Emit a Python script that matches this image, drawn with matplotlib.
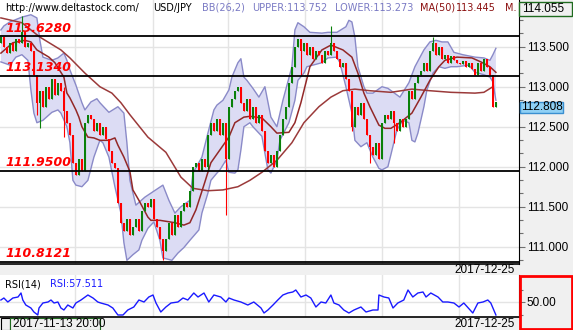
import numpy as np
import matplotlib
matplotlib.use("Agg")
import matplotlib.pyplot as plt
from matplotlib.patches import Rectangle
from matplotlib.ticker import AutoMinorLocator, FixedLocator, MultipleLocator

# ---------------- data ----------------
first_open = 113.55
closes = [
    113.62, 113.50, 113.42, 113.55, 113.45, 113.60, 113.55,
    113.68, 113.50, 113.55, 113.45,
    113.15, 112.80,
    112.95, 112.75, 113.00, 112.85, 113.10, 112.90, 113.05, 112.95,
    112.70, 112.55, 112.40,
    112.05, 111.90, 112.10, 111.95,
    112.55, 112.65,
    112.60, 112.45, 112.55, 112.40, 112.50, 112.35,
    112.20, 112.05, 111.98,
    111.55,
    111.30, 111.20, 111.35, 111.15,
    111.25, 111.35, 111.20,
    111.45, 111.55, 111.50, 111.60,
    111.35, 111.25, 111.10,
    110.95, 111.10,
    111.30, 111.15, 111.40, 111.25,
    111.45, 111.55, 111.50, 111.70,
    112.00,
    112.05, 111.95, 112.10, 112.00,
    112.40, 112.55,
    112.45, 112.60, 112.40, 112.55,
    112.10,
    112.75,
    112.85, 112.95, 113.00, 112.80,
    112.70, 112.85, 112.60, 112.75, 112.55, 112.65,
    112.45, 112.20, 112.05, 112.15, 112.00, 112.20,
    112.40, 112.60, 112.75,
    113.05, 113.25,
    113.50, 113.60, 113.45, 113.55, 113.40, 113.50,
    113.35, 113.45, 113.40, 113.30, 113.45, 113.40,
    113.55, 113.45,
    113.35, 113.25, 113.30,
    113.10,
    112.95,
    112.50,
    112.75, 112.65, 112.80, 112.60,
    112.40, 112.25, 112.15, 112.30, 112.10,
    112.55, 112.65, 112.60, 112.70,
    112.55, 112.45, 112.60, 112.50, 112.60,
    112.95, 112.85,
    113.05, 113.15, 113.20,
    113.30, 113.20,
    113.45, 113.55, 113.40, 113.50,
    113.35, 113.40, 113.30, 113.38, 113.33, 113.30,
    113.28, 113.32, 113.25, 113.30, 113.22,
    113.15, 113.30, 113.20, 113.35, 113.25, 113.15,
    112.75,
    112.81,
]
spike_high = {7: 113.88, 21: 113.00, 110: 113.76, 144: 113.62}
spike_low = {12: 112.65, 13: 112.48, 21: 112.37, 54: 110.84, 69: 111.95,
             75: 111.40, 100: 113.15, 117: 112.45, 123: 112.05, 131: 112.30}

upper_x = [0, 1, 3, 7, 10, 12, 13, 14, 17, 19, 21, 22, 23, 25, 27, 28, 30, 32, 33, 36,
           39, 41, 42, 43, 45, 48, 50, 54, 56, 58, 60, 63, 64, 67, 69, 71, 72, 74, 76, 77,
           79, 80, 81, 82, 84, 86, 88, 90, 92, 94, 97, 98, 99, 101, 103, 107, 109, 112, 115, 116,
           117, 118, 119, 121, 122, 124, 127, 129, 133, 136, 138, 141, 143, 145, 147, 149, 151, 154, 158, 161,
           163, 164, 165]
upper_y = [113.71, 113.76, 113.81, 113.87, 113.90, 113.86, 113.58, 113.37, 113.33, 113.36,
           113.42, 113.33, 113.21, 113.02, 112.80, 112.71, 112.81, 112.85, 112.80, 112.68,
           112.75, 112.67, 112.30, 111.83, 111.52, 111.62, 111.67, 111.77, 111.58, 111.42,
           111.50, 111.58, 111.92, 112.12, 112.42, 112.71, 112.77, 112.83, 112.96, 113.12,
           113.30, 113.35, 113.12, 113.08, 112.98, 112.87, 113.00, 112.62, 112.50, 112.83,
           113.25, 113.71, 113.80, 113.75, 113.68, 113.67, 113.68, 113.68, 113.75, 113.83,
           113.81, 113.62, 113.25, 113.00, 112.92, 112.92, 113.00, 112.98, 112.87, 113.05,
           113.25, 113.46, 113.56, 113.58, 113.56, 113.56, 113.43, 113.40, 113.37, 113.36,
           113.33, 113.40, 113.48]

lower_x = [0, 3, 5, 7, 9, 10, 11, 12, 14, 17, 19, 20, 22, 23, 24, 25, 27, 29, 31, 33,
           34, 36, 38, 40, 41, 42, 44, 46, 47, 49, 51, 53, 54, 57, 59, 61, 63, 66, 67, 69,
           70, 72, 73, 75, 76, 78, 79, 80, 81, 83, 84, 87, 89, 90, 92, 93, 96, 98, 99, 101,
           102, 104, 107, 109, 112, 113, 115, 117, 118, 120, 122, 124, 126, 127, 129, 130, 132, 134, 136, 137,
           138, 139, 141, 142, 144, 146, 148, 150, 152, 156, 158, 161, 163, 164, 165]
lower_y = [113.31, 113.27, 113.37, 113.40, 113.33, 112.96, 112.67, 112.55, 112.58, 112.68,
           112.71, 112.67, 112.50, 112.30, 111.83, 111.77, 111.75, 111.83, 112.12, 112.33,
           112.30, 112.12, 111.75, 111.42, 111.05, 110.83, 110.90, 110.96, 111.08, 111.23,
           111.31, 111.08, 110.86, 110.83, 110.92, 110.99, 111.08, 111.21, 111.42, 111.67,
           111.83, 111.92, 111.96, 112.08, 111.93, 111.92, 111.96, 112.21, 112.50, 112.55,
           112.50, 112.38, 111.96, 111.92, 112.08, 112.33, 112.55, 112.83, 113.08, 113.17,
           113.25, 113.27, 113.30, 113.36, 113.37, 113.30, 113.00, 112.67, 112.33, 112.25,
           112.30, 112.12, 111.98, 111.96, 112.00, 112.15, 112.46, 112.58, 112.55, 112.33,
           112.31, 112.42, 112.75, 112.96, 113.17, 113.25, 113.23, 113.25, 113.25, 113.27,
           113.18, 113.15, 113.12, 113.06, 112.83]

ma50_x = [0, 4, 8, 10, 12, 16, 18, 21, 22, 23, 25, 26, 27, 29, 31, 33, 36, 38, 39, 41,
          43, 44, 46, 49, 50, 53, 58, 61, 63, 65, 68, 70, 73, 76, 78, 81, 83, 87, 90, 92,
          96, 98, 100, 103, 107, 110, 114, 117, 119, 121, 123, 126, 128, 130, 133, 137, 140, 143, 146, 148,
          152, 157, 160, 163, 165]
ma50_y = [113.42, 113.55, 113.58, 113.56, 113.46, 113.37, 113.30, 113.12, 112.92, 112.86,
          112.71, 112.62, 112.50, 112.37, 112.36, 112.33, 112.33, 112.36, 112.27, 112.12,
          111.94, 111.71, 111.58, 111.37, 111.33, 111.33, 111.30, 111.27, 111.30, 111.46,
          111.81, 112.05, 112.21, 112.37, 112.55, 112.62, 112.63, 112.61, 112.50, 112.42,
          112.43, 112.55, 112.80, 113.25, 113.46, 113.52, 113.46, 113.37, 113.17, 112.92,
          112.75, 112.52, 112.48, 112.48, 112.55, 112.67, 112.87, 113.08, 113.25, 113.33,
          113.37, 113.36, 113.31, 113.25, 113.18]

ma_long_x = [0, 7, 13, 20, 23, 28, 33, 37, 40, 43, 49, 55, 60, 64, 69, 74, 79, 83, 87, 92,
             97, 101, 106, 110, 114, 118, 123, 130, 137, 143, 150, 158, 161, 164]
ma_long_y = [113.86, 113.80, 113.62, 113.46, 113.36, 113.17, 113.00, 112.92, 112.80, 112.65,
             112.37, 112.18, 111.87, 111.73, 111.70, 111.71, 111.75, 111.83, 111.93, 112.08,
             112.30, 112.55, 112.75, 112.87, 112.95, 112.97, 112.95, 112.93, 112.97, 112.95,
             112.93, 112.92, 112.93, 113.00]

levels = [113.628, 113.134, 111.95, 110.8121]
price_ticks = [111.0, 111.5, 112.0, 112.5, 113.0, 113.5]

rsi_x = [0, 1, 2.3, 4, 5.7, 6.7, 7.3, 8.3, 10, 11, 12.3, 12.7, 14, 15.7, 16.7, 17.7, 19, 20, 21, 22.3,
         24, 25, 26.7, 29, 30.7, 32.3, 33.3, 35.7, 37.3, 39, 40.7, 42.3, 44.3, 46, 47.7, 49.3, 50.7, 51.7, 53.3, 55,
         56.7, 59, 60.7, 62.3, 64.3, 65.7, 67.7, 69.3, 71, 73.3, 75, 76, 77.7, 80, 82.3, 84.3, 86.7, 87.7, 89, 90.7,
         92.3, 94, 95.7, 97.3, 98.3, 100, 101.7, 103.3, 105, 106.7, 108.3, 110, 111, 112.7, 114.3, 116, 117.7, 120, 121.7, 124,
         125.7, 126, 127.7, 129.3, 130.7, 132.3, 134.3, 135.7, 137.3, 139, 140.7, 141.7, 143.3, 145.7, 147.3, 149, 151, 152.7, 154.3, 157.3,
         159, 160.7, 162.3, 163.3, 165]
rsi_y = [52, 54, 50, 54, 55, 59, 52, 47, 44, 40, 37, 44, 49, 50, 52, 49, 50, 44, 42, 47,
         44, 49, 52, 57, 54, 50, 49, 47, 44, 37, 37, 42, 45, 52, 50, 55, 57, 49, 40, 45,
         49, 50, 54, 52, 59, 55, 59, 50, 57, 55, 50, 54, 52, 50, 47, 50, 44, 39, 42, 47,
         52, 57, 59, 60, 62, 55, 57, 54, 45, 50, 49, 57, 49, 47, 42, 39, 42, 45, 40, 42,
         42, 57, 55, 54, 44, 49, 52, 62, 55, 59, 60, 55, 59, 55, 50, 50, 49, 45, 49, 39,
         49, 50, 52, 49, 37]

grid_bars = [24.7, 50.7, 75.7, 101.3, 127, 152.7]

# ---------------- layout ----------------
W, H = 573, 330
fig = plt.figure(figsize=(W / 100, H / 100), dpi=100)
fig.patch.set_facecolor("white")
plt.rcParams["font.family"] = "DejaVu Sans"


def fx(px):
    return px / W


def fy(py):
    return 1 - py / H


def fig_rect(x0, y0, x1, y1, **kw):
    fig.patches.append(Rectangle((fx(x0), fy(y1)), (x1 - x0) / W, (y1 - y0) / H,
                                 transform=fig.transFigure, **kw))


GRAY = "#f0f0f0"
fig_rect(0, 264, 519, 275, facecolor=GRAY, edgecolor="none", zorder=-5)
fig_rect(0, 317, 519, 330, facecolor=GRAY, edgecolor="none", zorder=-5)
fig_rect(519, 0, 573, 330, facecolor=GRAY, edgecolor="none", zorder=-5)

TICKFONT = {"family": "Liberation Sans", "size": 8.5}

# ---------------- main price panel ----------------
ax = fig.add_axes([0, fy(264), fx(519), 264 / H])
ax.set_xlim(-0.3, 172.7)
ax.set_ylim(110.784, 114.084)
for s in ["top", "left"]:
    ax.spines[s].set_visible(False)
ax.spines["right"].set_color("black")
ax.spines["bottom"].set_color("black")
ax.spines["bottom"].set_linewidth(1.2)
ax.set_xticks([])
ax.yaxis.tick_right()
ax.yaxis.set_major_locator(FixedLocator(price_ticks))
ax.yaxis.set_minor_locator(MultipleLocator(0.5 / 3))
ax.yaxis.set_major_formatter(matplotlib.ticker.FormatStrFormatter("%.3f"))
ax.tick_params(axis="y", which="major", length=4, width=0.8, color="#707070", pad=1.5)
ax.tick_params(axis="y", which="minor", length=3, width=0.8, color="#707070")
for lab in ax.get_yticklabels():
    lab.set_fontfamily("Liberation Sans")
    lab.set_fontsize(8.5)

for gb in grid_bars:
    ax.axvline(gb, color="#e4e4e4", lw=1, zorder=0)
for gy in price_ticks:
    ax.axhline(gy, color="#e4e4e4", lw=1, zorder=0)

# bollinger band
poly_x = list(upper_x) + list(lower_x[::-1])
poly_y = list(upper_y) + list(lower_y[::-1])
ax.fill(poly_x, poly_y, facecolor="#dcdcf4", edgecolor="none", zorder=1)
ax.plot(upper_x, upper_y, color="#8a8ac8", lw=1, zorder=2)
ax.plot(lower_x, lower_y, color="#8a8ac8", lw=1, zorder=2)

# candles
n = len(closes)
opens = [first_open] + closes[:-1]
xs = np.arange(n)
for i in range(n):
    o, c = opens[i], closes[i]
    col = "#0a800a" if c >= o else "#ff0000"
    lo, hi = min(o, c), max(o, c)
    wl = spike_low.get(i, lo)
    wh = spike_high.get(i, hi)
    ax.vlines(xs[i], wl, wh, color=col, lw=0.8, zorder=4)
    ax.bar(xs[i], max(hi - lo, 0.012), bottom=lo, width=0.55, color=col,
           linewidth=0, zorder=4)

ax.plot(ma_long_x, ma_long_y, color="#9b3a3a", lw=1.1, zorder=3)
ax.plot(ma50_x, ma50_y, color="#932828", lw=1.1, zorder=3)

for lv in levels:
    ax.axhline(lv, color="black", lw=1.3, zorder=5)
    ax.text(1.5, lv + 0.06, f"{lv:.4f}", color="red", fontsize=9,
            fontweight="bold", fontstyle="italic", va="baseline", ha="left", zorder=6)

# ---------------- RSI panel ----------------
ax2 = fig.add_axes([0, fy(317), fx(519), (317 - 275) / H])
ax2.set_xlim(-0.3, 172.7)
ax2.set_ylim(35, 77)
for s in ["top", "left"]:
    ax2.spines[s].set_visible(False)
ax2.spines["bottom"].set_linewidth(1.2)
ax2.set_xticks([])
ax2.yaxis.tick_right()
ax2.yaxis.set_major_locator(FixedLocator([50]))
ax2.yaxis.set_minor_locator(FixedLocator([37.5, 62.5]))
ax2.yaxis.set_major_formatter(matplotlib.ticker.FormatStrFormatter("%.2f"))
ax2.tick_params(axis="y", which="major", length=4, width=0.8, color="#707070", pad=1.5)
ax2.tick_params(axis="y", which="minor", length=3, width=0.8, color="#707070")
for lab in ax2.get_yticklabels():
    lab.set_fontfamily("Liberation Sans")
    lab.set_fontsize(8.5)
for gb in grid_bars:
    ax2.axvline(gb, color="#e4e4e4", lw=1, zorder=0)
ax2.axhline(50, color="#e4e4e4", lw=1, zorder=0)
ax2.plot(rsi_x, rsi_y, color="#1a1aff", lw=1, zorder=3)
ax2.text(0.01, 0.78, "RSI(14)", transform=ax2.transAxes, fontsize=7, color="black", va="center")
ax2.text(0.097, 0.78, "RSI:57.511", transform=ax2.transAxes, fontsize=7, color="#1a1aff", va="center")

# ---------------- header and boxes ----------------
header = [
    (5, "http://www.deltastock.com/", "black"),
    (153, "USD/JPY", "black"),
    (202, "BB(26,2)", "#7a7ac4"),
    (252, "UPPER:113.752", "#7a7ac4"),
    (335, "LOWER:113.273", "#7a7ac4"),
    (420, "MA(50)", "#8b1010"),
    (456, "113.445", "#8b1010"),
    (505, "M.", "#8b1010"),
]
for px, txt, col in header:
    fig.text(fx(px), fy(8), txt, color=col, fontsize=7, va="center", ha="left", zorder=3)

fig_rect(519, 2, 572, 16, facecolor=GRAY, edgecolor="#1f6b1f", lw=1, zorder=4)
fig.text(fx(522), fy(9), "114.055", fontdict=TICKFONT, va="center", ha="left", zorder=5)

fig_rect(520, 102, 563, 113, facecolor="#8fd0f5", edgecolor="#3a8fd0", lw=1, zorder=4)
fig.text(fx(541.5), fy(107.5), "112.808", fontdict=TICKFONT, va="center", ha="center", zorder=5)

fig_rect(519.5, 276, 572, 329, facecolor="none", edgecolor="red", lw=2, zorder=4)

fig.text(fx(515), fy(270), "2017-12-25", fontdict=TICKFONT, va="center", ha="right")
fig.text(fx(515), fy(324), "2017-12-25", fontdict=TICKFONT, va="center", ha="right")
fig_rect(0.5, 318, 10, 329.5, facecolor="none", edgecolor="black", lw=0.8, zorder=4)
fig_rect(10, 318, 100, 329.5, facecolor=GRAY, edgecolor="#1f6b1f", lw=0.8, zorder=4)
fig.text(fx(13), fy(324), "2017-11-13 20:00", fontdict=TICKFONT, va="center", ha="left", zorder=5)

fig.savefig("out.png", dpi=100)
